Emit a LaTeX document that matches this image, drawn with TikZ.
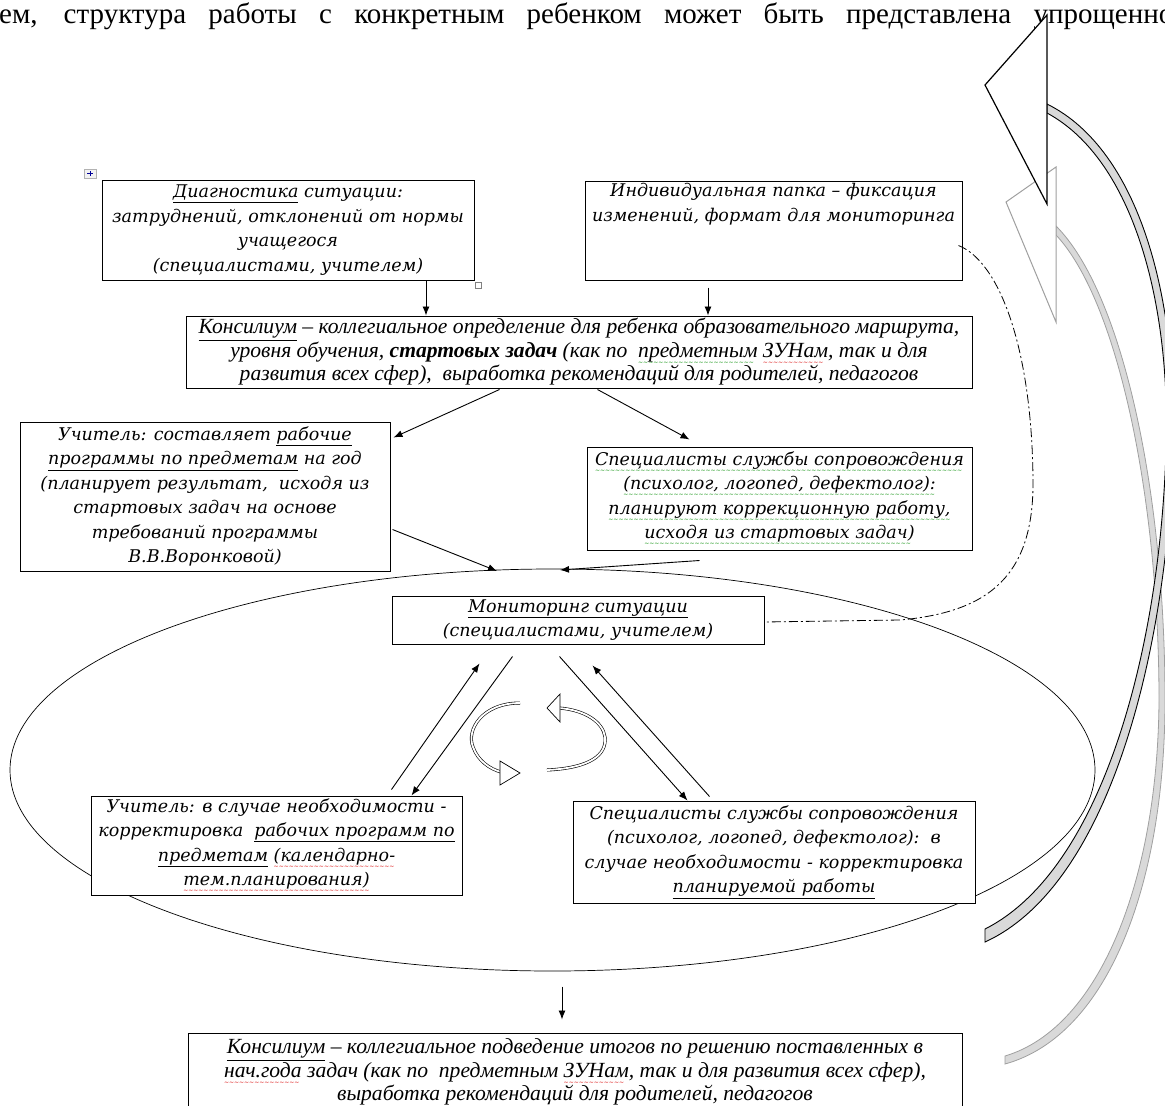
\documentclass[tikz,border=0pt]{standalone}
\usepackage{fontspec}
\setmainfont{Liberation Serif}
\newfontfamily\cam{DejaVu Serif}
\newfontfamily\sqf{DejaVu Sans}
\usetikzlibrary{arrows.meta,calc,shapes.geometric}
\newcommand\sq[2]{\setbox0=\hbox{#2}\dimen0=\wd0\relax
  \rlap{\raisebox{-7pt}{\color{#1}\upshape\sqf\fontsize{6}{6}\selectfont\leaders\hbox{\char"007E}\hskip\dimen0}}\box0\relax}
\colorlet{sqg}{green!55!black}
\colorlet{sqr}{red!85!black}
\begin{document}
\begin{tikzpicture}[x=1pt,y=-1pt,
  box/.style={draw, line width=1pt, fill=white, inner sep=0pt, align=center},
  ctext/.style={font=\cam\itshape\fontsize{17.5}{24.5}\selectfont},
  ttext/.style={font=\itshape\fontsize{21.6}{23.5}\selectfont},
  arr/.style={-{Latex[length=9pt,width=7pt]}, line width=0.9pt},
  curl/.style={draw=black, line width=0.6pt, double=white, double distance=1.8pt},
  dashdot/.style={line width=0.8pt, dash pattern=on 9pt off 3pt on 2pt off 3pt}]
\useasboundingbox (0,0) rectangle (1165,1106);
\clip (0,0) rectangle (1165,1106);

% top line of text
\node[anchor=base west, inner sep=0pt, font=\fontsize{29}{32}\selectfont] (toptext) at (-1,23)
  {\makebox[1174pt][s]{ем, структура работы с конкретным ребенком может быть представлена упрощенно}};

% ellipse
\node[draw, ellipse, line width=0.7pt, inner sep=0pt, minimum width=1085pt, minimum height=402pt] (ell) at (552.5,770) {};

% grey curved arrow
\filldraw[draw=gray!75, fill=gray!30, line width=0.8pt]
  (1056,226) .. controls (1122,292) and (1165,490) .. (1165,700)
  .. controls (1165,880) and (1110,1035) .. (1005,1064)
  -- (1005,1056) .. controls (1102,1027) and (1158,875) .. (1159,700)
  .. controls (1159,495) and (1117,300) .. (1056,235) -- cycle;
\filldraw[draw=gray!75, fill=white, line width=1pt] (1006,202) -- (1056,167) -- (1056,322) -- cycle;

% black curved arrow
\filldraw[draw=black, fill=gray!30, line width=0.9pt]
  (1047,104) .. controls (1140,150) and (1178,300) .. (1173,450)
  .. controls (1167,650) and (1110,885) .. (985,942)
  -- (985,929) .. controls (1102,870) and (1160,650) .. (1166,450)
  .. controls (1171,305) and (1134,160) .. (1047,113) -- cycle;
\filldraw[draw=black, fill=white, line width=1.2pt] (985,85) -- (1047,15) -- (1047,204) -- cycle;

% boxes
\node[box, ctext, minimum width=372pt, minimum height=100pt] (diag) at (288,230)
  {\underline{Диагностика} ситуации:\\ затруднений, отклонений от нормы\\ учащегося\\ (специалистами, учителем)};
\node[box, ctext, minimum width=377pt, minimum height=99pt] (folder) at (773.5,230.5)
  {Индивидуальная папка – фиксация\\ изменений, формат для мониторинга\\ \strut\\ \strut};
\node[box, ttext, minimum width=786pt, minimum height=72pt] (consil) at (579,352)
  {\underline{Консилиум} – коллегиальное определение для ребенка образовательного маршрута,\\
   уровня обучения, \textbf{стартовых задач} (как по\ \ \sq{sqg}{предметным} \sq{sqr}{ЗУНам}, так и для\\
   развития всех сфер),\ \ выработка рекомендаций для родителей, педагогов};
\node[box, ctext, minimum width=370pt, minimum height=149pt] (teacher) at (205,496.5)
  {Учитель: составляет \underline{рабочие}\\ \underline{программы по предметам} на год\\
   (планирует результат,\ \ исходя из\\ стартовых задач на основе\\ требований программы\\ В.В.Воронковой)};
\node[box, ctext, minimum width=385pt, minimum height=103pt] (spec) at (779.5,498.5)
  {\sq{sqg}{Специалисты службы сопровождения}\\ \sq{sqg}{(психолог, логопед, дефектолог):}\\ \sq{sqg}{планируют коррекционную работу,}\\ \sq{sqg}{исходя из стартовых задач)}};
\node[box, ctext, minimum width=372pt, minimum height=48pt] (monitor) at (578,620)
  {\underline{Мониторинг ситуации}\\ (специалистами, учителем)};
\node[box, ctext, minimum width=371pt, minimum height=99pt] (tcorr) at (276.5,845.5)
  {Учитель: в случае необходимости -\\ корректировка\ \ \underline{рабочих программ по}\\
   \underline{предметам} \sq{sqr}{(календарно-}\\ \sq{sqr}{тем.планирования)}};
\node[box, ctext, minimum width=402pt, minimum height=102pt] (scorr) at (774,852)
  {Специалисты службы сопровождения\\ (психолог, логопед, дефектолог):\ \ в\\
   случае необходимости - корректировка\\ \underline{планируемой работы}};
\node[box, ttext, minimum width=774pt, minimum height=78pt] (final) at (575,1072)
  {\underline{Консилиум} – коллегиальное подведение итогов по решению поставленных в\\
   \sq{sqr}{нач.года} задач (как по\ \ предметным \sq{sqr}{ЗУНам}, так и для развития всех сфер),\\
   выработка рекомендаций для родителей, педагогов};

% small editor marks
\filldraw[draw=gray!60, fill=gray!10, line width=0.5pt] (84,169) rectangle (96,178);
\draw[blue!60!black, line width=0.6pt] (87,173.5) -- (93,173.5) (90,171) -- (90,176);
\draw[gray, line width=0.5pt] (475,282) rectangle (481,288);

% helper coordinates
\coordinate (xa) at (426,0);
\coordinate (xb) at (708,0);
\coordinate (e1) at (497,571);
\coordinate (e2) at (560,570);

% connectors
\draw[arr] (diag.south -| xa) -- (consil.north -| xa);
\draw[arr] ($(folder.south -| xb)+(0,7)$) -- (consil.north -| xb);
\draw[arr] ($(consil.south west)+(314,1)$) -- ($(teacher.north east)+(3,16)$);
\draw[arr] ($(consil.south west)+(412,1)$) -- ($(spec.north west)+(103,-7)$);
\draw[arr] ($(teacher.east)+(2,33)$) -- (e1);
\draw[arr] ($(spec.south west)+(113,10)$) -- (e2);

\draw[arr] ($(tcorr.north west)+(301,-6)$) -- ($(monitor.south west)+(88,19)$);
\draw[arr] ($(monitor.south west)+(121,12)$) -- ($(tcorr.north west)+(321,0)$);
\draw[arr] ($(monitor.south west)+(168,12)$) -- ($(scorr.north west)+(115,0)$);
\draw[arr] ($(scorr.north west)+(137,-4)$) -- ($(monitor.south west)+(201,21)$);

\draw[arr] ($(final.north)+(-13,-46)$) -- ($(final.north)+(-13,-13)$);

% dash-dot link
\draw[dashdot] ($(folder.east)+(-4,15)$) .. controls (1000,262) and (1032,350) .. (1033,480)
  .. controls (1034,575) and (990,612) .. (900,620) -- ($(monitor.east)+(0,2)$);

% circular arrows
\draw[curl] (520,703) .. controls (482,703) and (466,730) .. (473,747)
  .. controls (478,761) and (490,769) .. (501,772);
\filldraw[fill=white, draw=black, line width=0.7pt] (500,761) -- (520,773) -- (500,785) -- cycle;
\draw[curl] (547,770) .. controls (590,768) and (607,755) .. (605,737)
  .. controls (603,722) and (585,710) .. (559,708);
\filldraw[fill=white, draw=black, line width=0.7pt] (560,694) -- (547,708) -- (560,722) -- cycle;
\end{tikzpicture}
\end{document}
